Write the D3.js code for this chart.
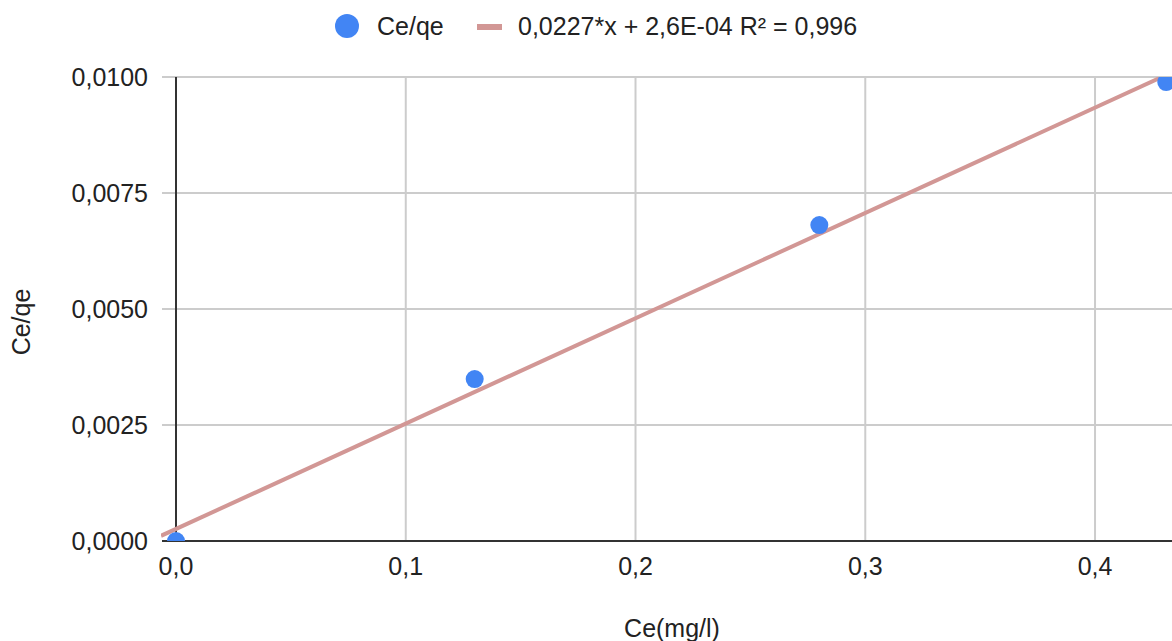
<!DOCTYPE html>
<html>
<head>
<meta charset="utf-8">
<script src="https://cdn.jsdelivr.net/npm/d3@7"></script>
<style>
  body { margin: 0; background: #fff; }
  text { font-family: "Liberation Sans", Arial, sans-serif; fill: #222; }
</style>
</head>
<body>
<div id="vis"></div>
<script>
// data
var ceValues = [0, 0.13, 0.28, 0.431];
var ceqeValues = [0, 0.00349, 0.00681, 0.00989];
var xTicks = [0, 0.1, 0.2, 0.3, 0.4];
var yTicks = [0, 0.0025, 0.005, 0.0075, 0.01];
var trendSlope = 0.0227;
var trendIntercept = 0.00026;
var seriesName = 'Ce/qe';
var trendLabel = '0,0227*x + 2,6E-04 R\u00b2 = 0,996';

var width = 1172;
var height = 641;
var margin = { top: 77, right: 0, bottom: 100, left: 176 };
var fontSize = 25;

var svg = d3.select('#vis').append('svg')
  .attr('width', width)
  .attr('height', height);

var x = d3.scaleLinear()
  .domain([0, 0.4335])
  .range([margin.left, width - margin.right]);

var y = d3.scaleLinear()
  .domain([0, 0.01])
  .range([height - margin.bottom, margin.top]);

var comma = function(s) { return s.replace('.', ','); };

// gridlines (they run a little past the axis, like tick marks)
svg.append('g').selectAll('line')
  .data(yTicks)
  .enter().append('line')
  .attr('x1', margin.left - 14)
  .attr('x2', width)
  .attr('y1', function(d) { return y(d); })
  .attr('y2', function(d) { return y(d); })
  .attr('stroke', '#cccccc')
  .attr('stroke-width', 2);

svg.append('g').selectAll('line')
  .data(xTicks.slice(1))
  .enter().append('line')
  .attr('x1', function(d) { return x(d); })
  .attr('x2', function(d) { return x(d); })
  .attr('y1', y(0.01))
  .attr('y2', y(0))
  .attr('stroke', '#cccccc')
  .attr('stroke-width', 2);

// axes
svg.append('line')
  .attr('x1', x(0)).attr('x2', x(0))
  .attr('y1', y(0.01)).attr('y2', y(0))
  .attr('stroke', '#333').attr('stroke-width', 2);

svg.append('line')
  .attr('x1', margin.left - 14).attr('x2', width)
  .attr('y1', y(0)).attr('y2', y(0))
  .attr('stroke', '#333').attr('stroke-width', 2);

// tick labels
svg.append('g').selectAll('text')
  .data(yTicks)
  .enter().append('text')
  .attr('x', 148)
  .attr('y', function(d) { return y(d); })
  .attr('dy', '0.35em')
  .attr('text-anchor', 'end')
  .attr('font-size', fontSize)
  .text(function(d) { return comma(d3.format('.4f')(d)); });

svg.append('g').selectAll('text')
  .data(xTicks)
  .enter().append('text')
  .attr('x', function(d) { return x(d); })
  .attr('y', 575)
  .attr('text-anchor', 'middle')
  .attr('font-size', fontSize)
  .text(function(d) { return comma(d3.format('.1f')(d)); });

// axis titles
svg.append('text')
  .attr('x', 672)
  .attr('y', 637)
  .attr('text-anchor', 'middle')
  .attr('font-size', fontSize)
  .text('Ce(mg/l)');

svg.append('text')
  .attr('transform', 'translate(30,322) rotate(-90)')
  .attr('text-anchor', 'middle')
  .attr('font-size', fontSize)
  .text('Ce/qe');

// clip to plot area
svg.append('clipPath').attr('id', 'plotclip')
  .append('rect')
  .attr('x', margin.left - 15)
  .attr('y', y(0.01))
  .attr('width', width - margin.left + 15)
  .attr('height', y(0) - y(0.01));

var plot = svg.append('g').attr('clip-path', 'url(#plotclip)');

// trendline
var xStart = x.invert(margin.left - 15);
var xEnd = x.domain()[1];
plot.append('line')
  .attr('x1', x(xStart))
  .attr('y1', y(trendSlope * xStart + trendIntercept))
  .attr('x2', x(xEnd))
  .attr('y2', y(trendSlope * xEnd + trendIntercept))
  .attr('stroke', '#d29795')
  .attr('stroke-width', 4);

// points
plot.selectAll('circle')
  .data(ceValues.map(function(d, i) { return { x: d, y: ceqeValues[i] }; }))
  .enter().append('circle')
  .attr('cx', function(d) { return x(d.x); })
  .attr('cy', function(d) { return y(d.y); })
  .attr('r', 9)
  .attr('fill', '#4285f4');

// legend
var legend = svg.append('g');
legend.append('circle')
  .attr('cx', 347).attr('cy', 26).attr('r', 12)
  .attr('fill', '#4285f4');
legend.append('text')
  .attr('x', 377).attr('y', 26).attr('dy', '0.35em')
  .attr('font-size', fontSize)
  .text(seriesName);
legend.append('rect')
  .attr('x', 477).attr('y', 24).attr('width', 25).attr('height', 6)
  .attr('fill', '#d29795');
legend.append('text')
  .attr('x', 518).attr('y', 26).attr('dy', '0.35em')
  .attr('font-size', fontSize)
  .text(trendLabel);
</script>
</body>
</html>
